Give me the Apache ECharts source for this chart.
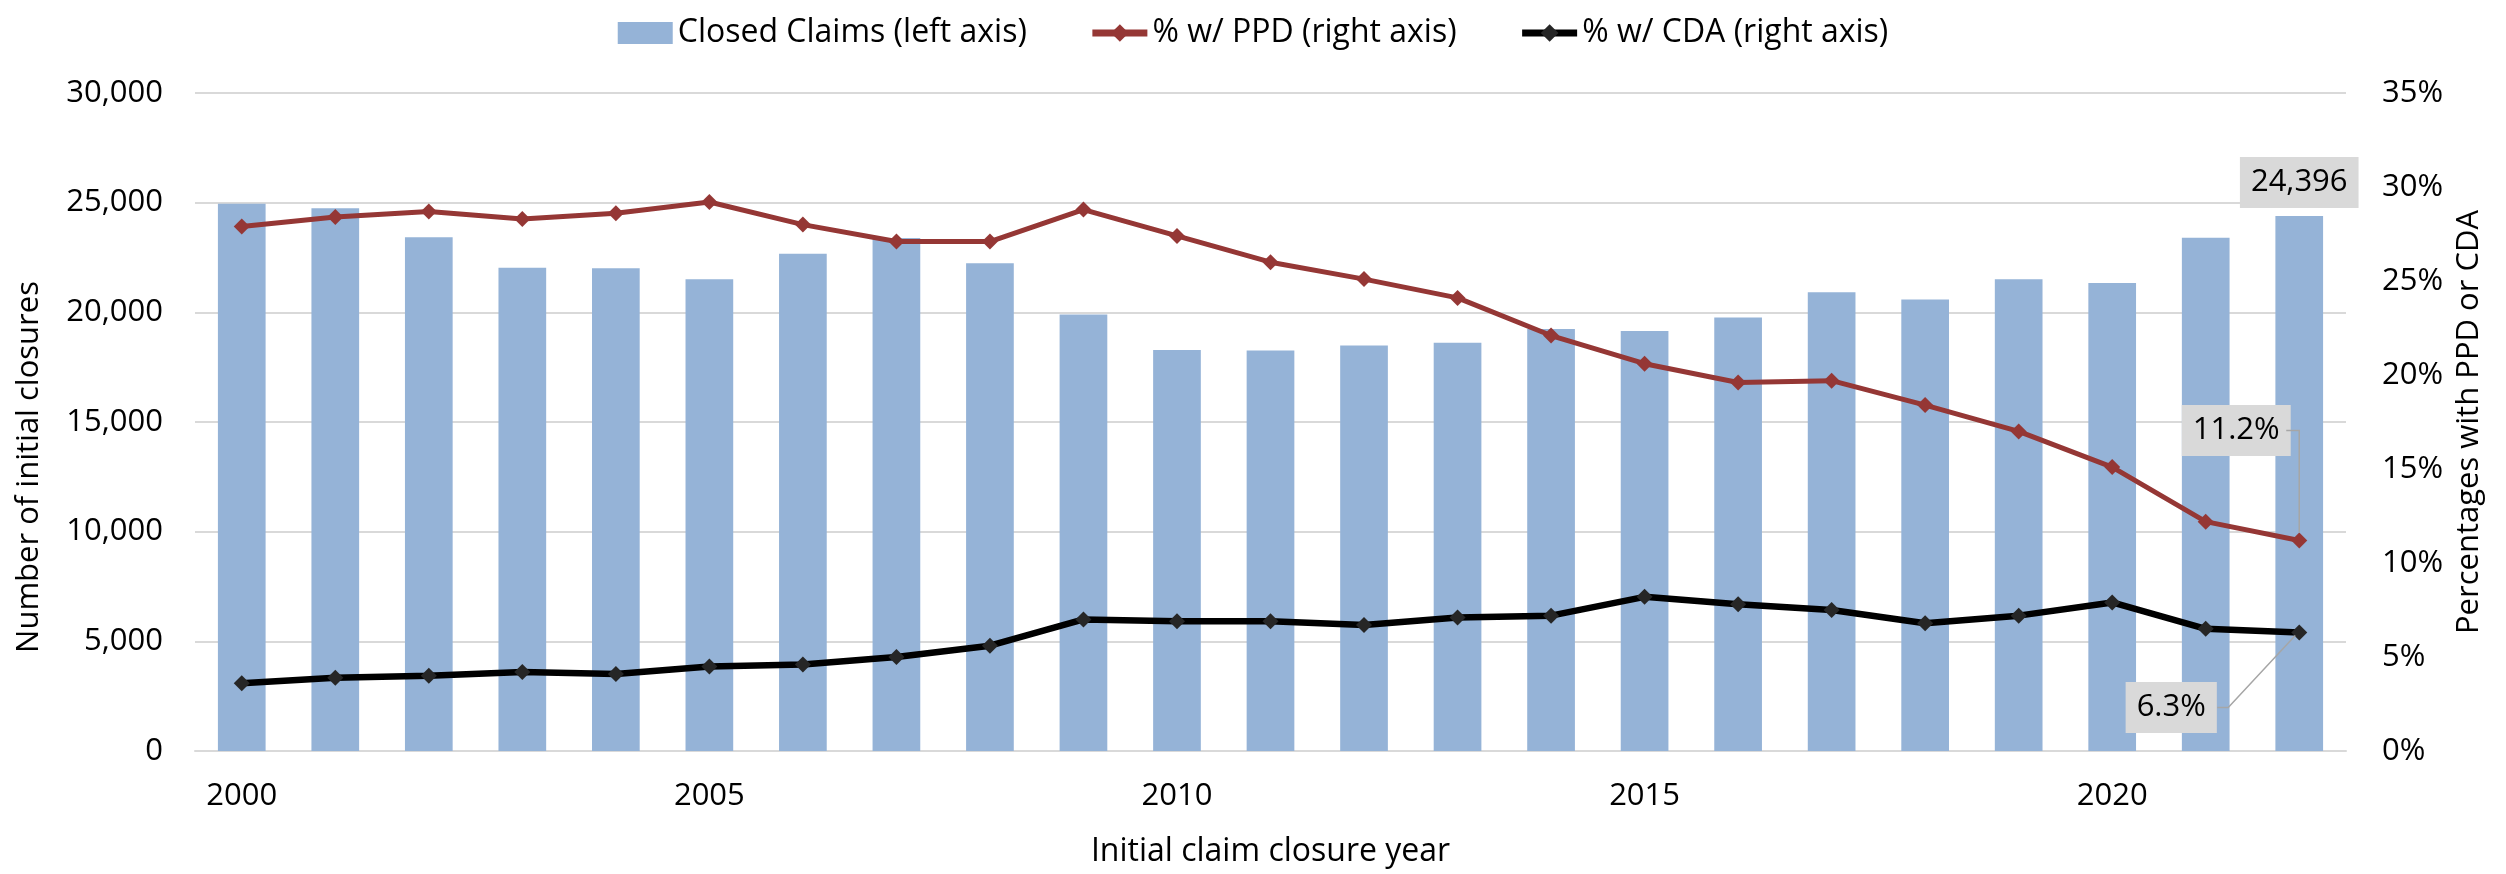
<!DOCTYPE html>
<html>
<head>
<meta charset="utf-8">
<script src="https://cdn.jsdelivr.net/npm/echarts@6/dist/echarts.min.js"></script>
<style>
html,body{margin:0;padding:0;background:#fff;}
#chart{width:2506px;height:874px;}
</style>
</head>
<body>
<div id="chart"></div>
<script>
const years = ['2000','2001','2002','2003','2004','2005','2006','2007','2008','2009','2010','2011','2012','2013','2014','2015','2016','2017','2018','2019','2020','2021','2022'];
const closedClaims = [24950,24740,23420,22030,22010,21510,22670,23390,22240,19900,18280,18260,18490,18610,19240,19150,19760,20920,20590,21510,21340,23400,24396];
const pctPPD = [27.9,28.4,28.7,28.3,28.6,29.2,28.0,27.1,27.1,28.8,27.4,26.0,25.1,24.1,22.1,20.6,19.6,19.7,18.4,17.0,15.1,12.2,11.2];
const pctCDA = [3.6,3.9,4.0,4.2,4.1,4.5,4.6,5.0,5.6,7.0,6.9,6.9,6.7,7.1,7.2,8.2,7.8,7.5,6.8,7.2,7.9,6.5,6.3];
const leftTicks = {min:0, max:30000, interval:5000};
const rightTicks = {min:0, max:35, interval:5};

const FONT = "'Open Sans', 'Noto Sans', sans-serif";
const last = years.length - 1;

const labelBox = {
  show: true, fontFamily: FONT, fontSize: 31, color: '#000',
  backgroundColor: '#d9d9d9', padding: [10, 11]
};
const PPD_OFF = [-63, -110];
const CDA_OFF = [-128, 75];

function centerOf(p) { return [p.rect.x + p.rect.width / 2, p.rect.y + p.rect.height / 2]; }

const chart = echarts.init(document.getElementById('chart'));
chart.setOption({
  animation: false,
  textStyle: {fontFamily: FONT},
  grid: {left: 195, right: 160, top: 93, bottom: 123, containLabel: false},
  legend: {
    top: 12, left: 'center', itemWidth: 55, itemHeight: 22, itemGap: 62,
    textStyle: {fontFamily: FONT, fontSize: 32, color: '#000'},
    data: [
      {name: 'Closed Claims (left axis)', icon: 'rect'},
      {name: '% w/ PPD (right axis)', lineStyle: {width: 7}},
      {name: '% w/ CDA (right axis)', lineStyle: {width: 7}}
    ]
  },
  xAxis: {
    type: 'category', data: years,
    name: 'Initial claim closure year', nameLocation: 'middle', nameGap: 85,
    nameTextStyle: {fontFamily: FONT, fontSize: 32, color: '#000'},
    axisTick: {show: false},
    axisLine: {lineStyle: {color: '#d9d9d9', width: 2}},
    axisLabel: {interval: 4, fontFamily: FONT, fontSize: 31, color: '#000', margin: 30}
  },
  yAxis: [
    {
      type: 'value', min: leftTicks.min, max: leftTicks.max, interval: leftTicks.interval,
      name: 'Number of initial closures', nameLocation: 'middle', nameGap: 150,
      nameTextStyle: {fontFamily: FONT, fontSize: 31, color: '#000', padding: [0, 90, 0, 0]},
      axisLine: {show: false}, axisTick: {show: false},
      splitLine: {lineStyle: {color: '#d9d9d9', width: 2}},
      axisLabel: {fontFamily: FONT, fontSize: 31, color: '#000', margin: 32,
        formatter: v => v.toLocaleString('en-US')}
    },
    {
      type: 'value', position: 'right', min: rightTicks.min, max: rightTicks.max, interval: rightTicks.interval,
      name: 'Percentages with PPD or CDA', nameLocation: 'middle', nameGap: 72, nameRotate: 90,
      nameTextStyle: {fontFamily: FONT, fontSize: 31, color: '#000'},
      axisLine: {show: false}, axisTick: {show: false}, splitLine: {show: false},
      axisLabel: {fontFamily: FONT, fontSize: 31, color: '#000', margin: 36, formatter: '{value}%'}
    }
  ],
  series: [
    {
      name: 'Closed Claims (left axis)', type: 'bar', yAxisIndex: 0, barWidth: '51%',
      itemStyle: {color: '#95b3d7'},
      data: closedClaims.map((v, i) => i === last
        ? {value: v, label: Object.assign({}, labelBox, {position: 'top', distance: 8,
            formatter: p => p.value.toLocaleString('en-US')})}
        : v)
    },
    {
      name: '% w/ PPD (right axis)', type: 'line', yAxisIndex: 1, z: 5,
      lineStyle: {color: '#953735', width: 5},
      itemStyle: {color: '#953735'},
      symbol: 'diamond', symbolSize: 16,
      data: pctPPD.map((v, i) => i === last
        ? {value: v, label: Object.assign({}, labelBox, {formatter: p => p.value.toFixed(1) + '%'})}
        : v),
      labelLayout: function (p) {
        if (p.dataIndex !== last) return {};
        const c = centerOf(p);
        return {x: c[0] + PPD_OFF[0], y: c[1] + PPD_OFF[1], align: 'center', verticalAlign: 'middle'};
      }
    },
    {
      name: '% w/ CDA (right axis)', type: 'line', yAxisIndex: 1, z: 6,
      lineStyle: {color: '#000000', width: 6.5},
      itemStyle: {color: '#262626'},
      symbol: 'diamond', symbolSize: 16,
      data: pctCDA.map((v, i) => i === last
        ? {value: v, label: Object.assign({}, labelBox, {formatter: p => p.value.toFixed(1) + '%'})}
        : v),
      labelLayout: function (p) {
        if (p.dataIndex !== last) return {};
        const c = centerOf(p);
        return {x: c[0] + CDA_OFF[0], y: c[1] + CDA_OFF[1], align: 'center', verticalAlign: 'middle'};
      }
    }
  ]
});

// leader lines from the labels to their points, positioned through the axes
const pP = chart.convertToPixel({xAxisIndex: 0, yAxisIndex: 1}, [last, pctPPD[last]]);
const pC = chart.convertToPixel({xAxisIndex: 0, yAxisIndex: 1}, [last, pctCDA[last]]);
const leader = {stroke: '#a6a6a6', lineWidth: 1.5, fill: null};
chart.setOption({
  graphic: [
    {type: 'polyline', z: 100, silent: true, shape: {points: [
      [pP[0] - 13, pP[1] + PPD_OFF[1]], [pP[0], pP[1] + PPD_OFF[1]], [pP[0], pP[1] - 8]]}, style: leader},
    {type: 'polyline', z: 100, silent: true, shape: {points: [
      [pC[0] + CDA_OFF[0] + 46, pC[1] + CDA_OFF[1]], [pC[0] + CDA_OFF[0] + 57, pC[1] + CDA_OFF[1]], [pC[0] - 4, pC[1] + 3]]}, style: leader}
  ]
});
</script>
</body>
</html>
